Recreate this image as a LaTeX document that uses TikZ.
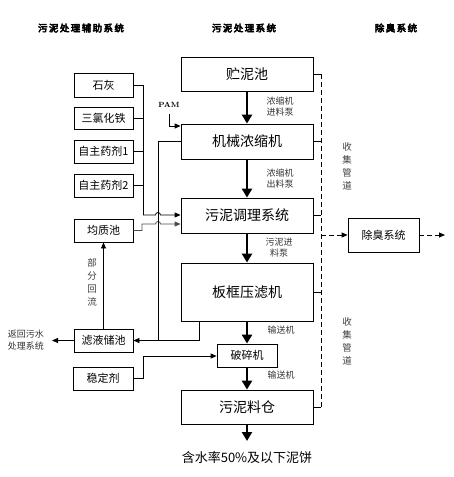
\documentclass[tikz,border=0pt]{standalone}
\usepackage{fontspec}
\newfontfamily\cjk{Noto Sans CJK SC}
\newfontfamily\cjkb{Noto Sans CJK SC}[FakeBold=5,LetterSpace=15]
\usetikzlibrary{arrows.meta}
\tikzset{
  every node/.style={font=\cjk},
  mainbox/.style={draw, line width=0.8pt, minimum width=132pt, inner sep=0pt, font=\cjk\fontsize{14}{16}\selectfont},
  sidebox/.style={draw, line width=0.8pt, minimum width=59pt, minimum height=23pt, inner sep=0pt, font=\cjk\fontsize{11}{13}\selectfont},
  title/.style={font=\cjkb\fontsize{9.5}{11}\selectfont},
  lbl/.style={font=\cjk\fontsize{9}{11}\selectfont, align=center, text=black!80},
  vlbl/.style={font=\cjk\fontsize{9.5}{13}\selectfont, align=center, text=black!75},
  thickarrow/.style={line width=2.6pt, -{Triangle[length=9pt,width=10pt]}},
  thinline/.style={line width=0.8pt},
  thinarrow/.style={line width=0.8pt, -{Triangle[length=6pt,width=5pt]}},
  dashline/.style={line width=0.8pt, dash pattern=on 5pt off 3pt},
}
\begin{document}
\begin{tikzpicture}[x=1pt,y=-1pt]
\useasboundingbox (0,0) rectangle (453,477);
% titles
\node[title] (t1) at (81,28) {污泥处理辅助系统};
\node[title] (t2) at (244,28) {污泥处理系统};
\node[title] (t3) at (396,28) {除臭系统};
% main column
\node[mainbox, minimum height=34pt] (zhuni) at (247,74) {贮泥池};
\node[mainbox, minimum height=35pt] (nongsuo) at (247,141.5) {机械浓缩机};
\node[mainbox, minimum height=35pt] (tiaoli) at (247,215.5) {污泥调理系统};
\node[mainbox, minimum height=58pt] (yalv) at (247,292) {板框压滤机};
\node[mainbox, minimum width=60pt, minimum height=23pt, font=\cjk\fontsize{11}{13}\selectfont] (posui) at (247,355.5) {破碎机};
\node[mainbox, minimum height=34pt] (liaocang) at (247,407) {污泥料仓};
\node[font=\cjk\fontsize{13}{15}\selectfont] (bing) at (247,458) {含水率50\%及以下泥饼};
\coordinate (bingtop) at (247,441);
% main arrows
\draw[thickarrow] (zhuni) -- (nongsuo);
\draw[thickarrow] (nongsuo) -- (tiaoli);
\draw[thickarrow] (tiaoli) -- (yalv);
\draw[thickarrow] (yalv) -- (posui);
\draw[thickarrow] (posui) -- (liaocang);
\draw[thickarrow] (liaocang) -- (bingtop);
% arrow labels
\node[lbl] (l1) at (280,106.5) {浓缩机\\进料泵};
\node[lbl] (l2) at (280,179) {浓缩机\\出料泵};
\node[lbl] (l3) at (279,248) {污泥进\\料泵};
\node[lbl] (l4) at (281,330) {输送机};
\node[lbl] (l5) at (281,375) {输送机};
% left boxes
\node[sidebox, minimum height=24pt] (shihui) at (103.5,85) {石灰};
\node[sidebox, minimum height=22pt] (fecl) at (103.5,118) {三氯化铁};
\node[sidebox] (yj1) at (103.5,151.5) {自主药剂1};
\node[sidebox] (yj2) at (103.5,185.5) {自主药剂2};
\node[sidebox] (junzhi) at (103.5,230.5) {均质池};
\node[sidebox] (lvye) at (103.5,340.5) {滤液储池};
\node[sidebox, minimum width=60pt] (wending) at (103,378.5) {稳定剂};
% chemical feed line
\coordinate (cv1) at (143,85);
\coordinate (cv2) at (143,215);
\draw[thinline] (shihui.east) -- (cv1) -- (cv2);
\draw[thinline] (fecl.east) -- (fecl.east -| cv1);
\draw[thinline] (yj1.east) -- (yj1.east -| cv1);
\draw[thinline] (yj2.east) -- (yj2.east -| cv1);
\draw[thinarrow] (cv2) -- (155.5,215) arc[start angle=180,end angle=0,radius=2.5pt] -- (cv2 -| tiaoli.west);
% junzhi line
\coordinate (jz1) at (142,230.5);
\coordinate (jz2) at (142,224);
\draw[thinarrow, draw=black!70] (junzhi.east) -- (jz1) -- (jz2) -- (155.5,224) arc[start angle=180,end angle=0,radius=2.5pt] -- (jz2 -| tiaoli.west);
% filtrate line from nongsuo and yalv to lvye
\coordinate (fv1) at (158,141.5);
\coordinate (fv2) at (158,340.5);
\coordinate (yb) at (199,321);
\coordinate (yc) at (199,340.5);
\draw[thinline] (nongsuo.west) -- (fv1) -- (fv2);
\draw[thinline] (yb) -- (yc) -- (fv2);
\draw[thinarrow] (fv2) -- (lvye.east);
% PAM
\node[font=\bfseries\fontsize{7.5}{9}\selectfont] (pam) at (169,105) {PAM};
\coordinate (pam1) at (169,114);
\coordinate (pam2) at (169,126);
\draw[thinarrow] (pam1) -- (pam2) -- (pam2 -| nongsuo.west);
% lvye to junzhi
\draw[thinarrow] (lvye.north) -- (junzhi.south);
\node[vlbl] (hl) at (92,282) {部\\分\\回\\流};
% lvye to return
\coordinate (ret) at (52,340.5);
\draw[thinarrow] (lvye.west) -- (ret);
\node[lbl, font=\cjk\fontsize{9}{12}\selectfont] (rettxt) at (26,340.5) {返回污水\\处理系统};
% stabilizer
\coordinate (st1) at (143,378.5);
\coordinate (st2) at (143,356);
\draw[thinarrow] (wending.east) -- (st1) -- (st2) -- (st2 -| posui.west);
% collection pipeline
\coordinate (dtop) at (321,74);
\coordinate (dbot) at (321,407);
\draw[thinline] (zhuni.east) -- (dtop);
\draw[thinline] (nongsuo.east) -- (nongsuo.east -| dtop);
\draw[thinline] (tiaoli.east) -- (tiaoli.east -| dtop);
\draw[thinline] (yalv.east) -- (yalv.east -| dtop);
\draw[thinline] (liaocang.east) -- (dbot);
\draw[dashline] (dtop) -- (dbot);
\node[vlbl] (sj1) at (347,166) {收\\集\\管\\道};
\node[vlbl] (sj2) at (347,341) {收\\集\\管\\道};
% deodorization
\node[sidebox, minimum width=71pt, minimum height=34pt] (chuchou) at (383.5,235) {除臭系统};
\coordinate (dj) at (321,235);
\coordinate (dout) at (445,235);
\draw[dashline, -{Triangle[length=6pt,width=5pt]}] (dj) -- (chuchou.west);
\draw[dashline, -{Triangle[length=6pt,width=5pt]}] (chuchou.east) -- (dout);
\end{tikzpicture}
\end{document}
